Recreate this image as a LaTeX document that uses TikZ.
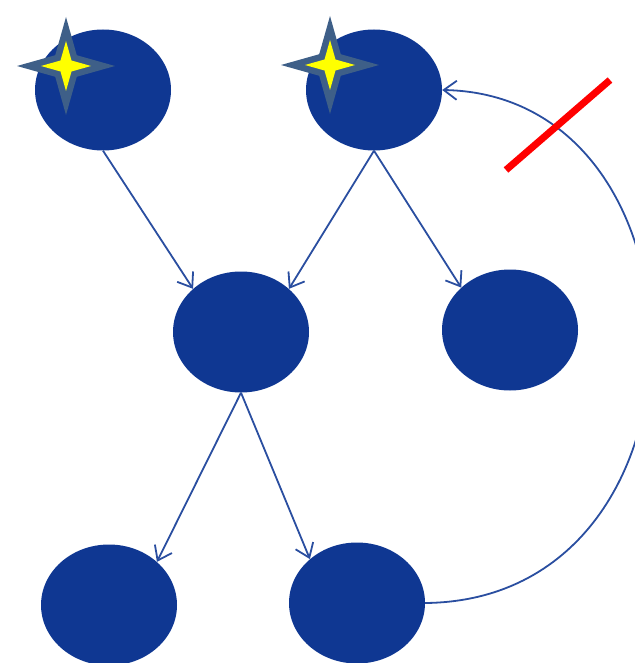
\documentclass[tikz,border=0pt]{standalone}
\usetikzlibrary{shapes.geometric,arrows.meta}
\definecolor{nodeblue}{HTML}{0F3792}
\definecolor{edgeblue}{HTML}{2A4EA0}
\definecolor{starblue}{HTML}{3E5F88}
\definecolor{staryellow}{HTML}{FFFF00}
\newcommand\mysparkle[4]{% center x, center y, R, color
  \fill[#4] (#1+#3,#2) -- (#1+0.22*#3,#2+0.22*#3) -- (#1,#2+#3) -- (#1-0.22*#3,#2+0.22*#3) -- (#1-#3,#2) -- (#1-0.22*#3,#2-0.22*#3) -- (#1,#2-#3) -- (#1+0.22*#3,#2-0.22*#3) -- cycle;}
\begin{document}
\begin{tikzpicture}[x=1pt,y=-1pt,
  blob/.style={ellipse, fill=nodeblue, draw=none, minimum width=136pt, minimum height=121pt, inner sep=0pt},
  link/.style={draw=edgeblue, line width=1.8pt, -{Straight Barb[length=13pt,width=19pt,line width=1.8pt]}}]
\useasboundingbox (0,0) rectangle (634,663);
\node[blob] (A) at (103,90) {};
\node[blob] (B) at (374,90) {};
\node[blob] (C) at (241,332) {};
\node[blob] (D) at (510,330) {};
\node[blob] (E) at (109,605) {};
\node[blob] (F) at (357,603) {};
\draw[link] (A.south) -- (C.138);
\draw[link] (B.south) -- (C.42);
\draw[link] (B.south) -- (D.139);
\draw[link] (C.south) -- (E.42);
\draw[link] (C.south) -- (F.137);
\draw[link] (F.east) .. controls (725,600) and (720,95) .. (B.east);
\draw[red, line width=7pt] (506,170) -- (610,80);
\mysparkle{66}{66}{49}{starblue}
\mysparkle{66}{66}{25}{staryellow}
\mysparkle{330}{65}{49}{starblue}
\mysparkle{330}{65}{25}{staryellow}
\end{tikzpicture}
\end{document}
